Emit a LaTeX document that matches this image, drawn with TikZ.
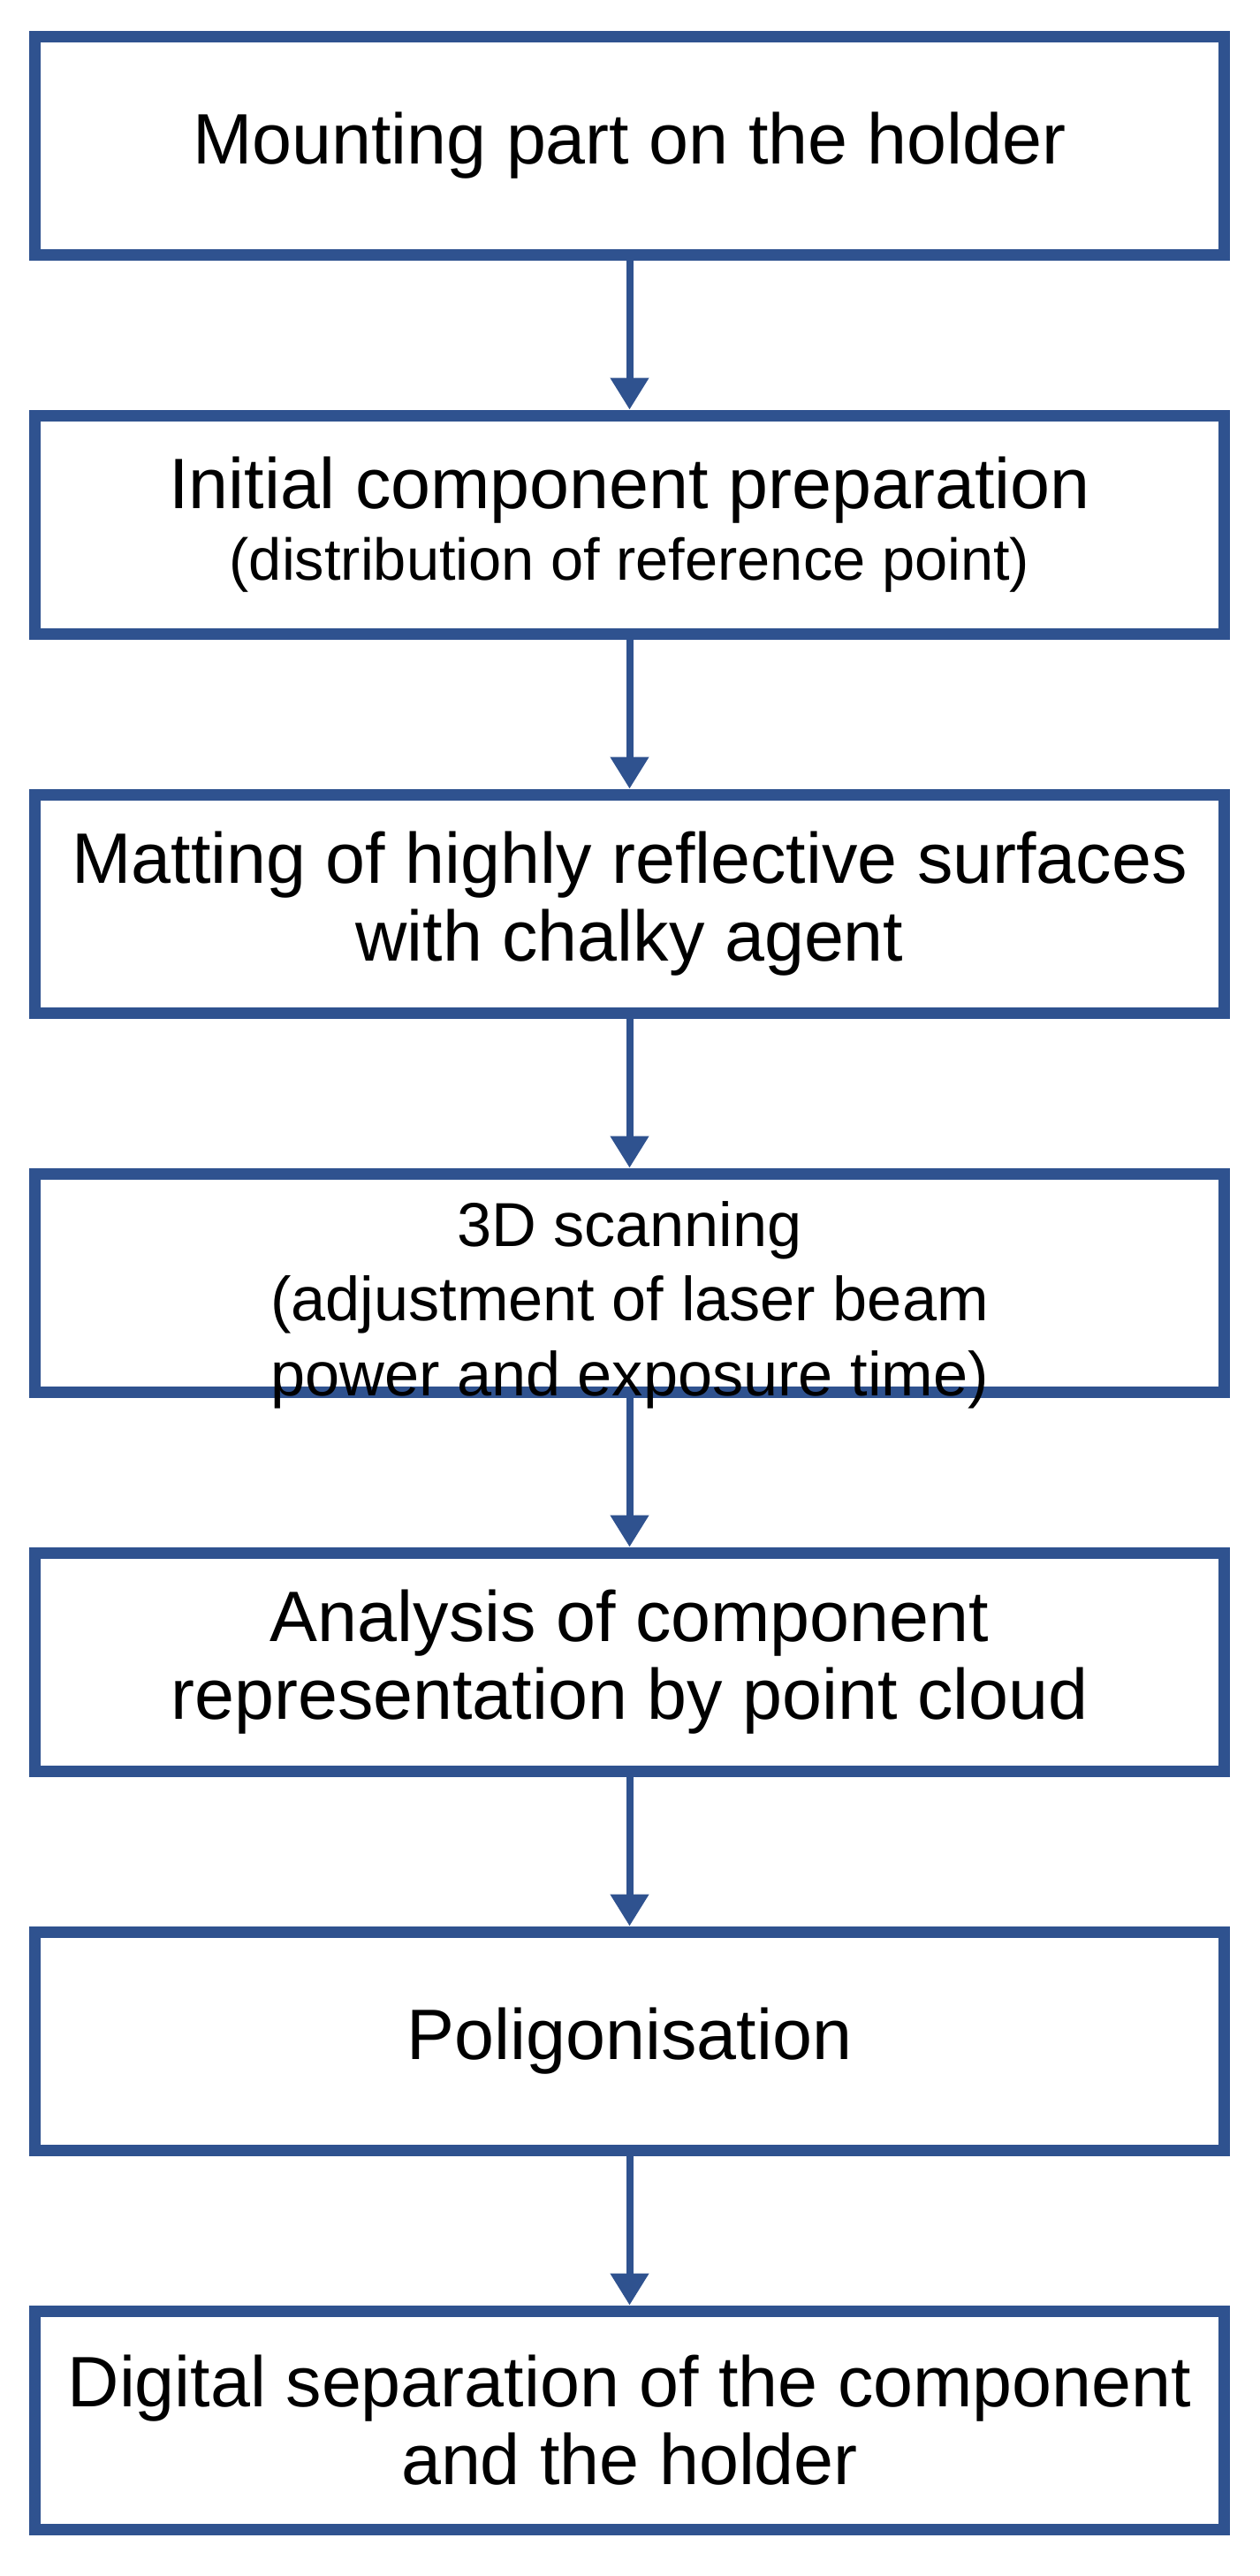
\documentclass[tikz,border=0pt]{standalone}
\usepackage{fontspec}
\setmainfont{Liberation Sans}
\usepackage{xcolor}
\usetikzlibrary{arrows.meta, positioning}
\definecolor{stepblue}{RGB}{47,82,143}

\begin{document}
\begin{tikzpicture}[
        node distance=1.69cm,
        stage/.style={rectangle, draw=stepblue, line width=0.13cm, fill=white, minimum width=13.46cm, minimum height=2.47cm, align=center, font=\fontsize{23}{25}\selectfont},
        arrow/.style={-{Triangle[width=0.42cm, length=0.36cm]}, line width=0.08cm, draw=stepblue},
    ]
        \useasboundingbox (0,0) rectangle (14.25,-29.15);

        % Stages
        \node[stage] (mount) at (7.125,-1.645) {Mounting part on the holder};
        \node[stage, below=of mount] (prep) {Initial component preparation\\[-2pt]{\fontsize{19}{22}\selectfont (distribution of reference point)}};
        \node[stage, below=of prep] (matt) {Matting of highly reflective surfaces\\with chalky agent};
        \node[stage, below=of matt] (scan) {};
        \node[stage, below=of scan] (cloud) {Analysis of component\\representation by point cloud};
        \node[stage, below=of cloud] (poly) {Poligonisation};
        \node[stage, below=of poly] (sep) {Digital separation of the component\\and the holder};
        \node[align=center, font=\fontsize{20}{24}\selectfont, yshift=-0.25cm] (scantext) at (scan) {3D scanning\\(adjustment of laser beam\\power and exposure time)};

        % Arrows
        \draw[arrow] (mount) -- (prep);
        \draw[arrow] (prep) -- (matt);
        \draw[arrow] (matt) -- (scan);
        \draw[arrow] (scan) -- (cloud);
        \draw[arrow] (cloud) -- (poly);
        \draw[arrow] (poly) -- (sep);
    \end{tikzpicture}
\end{document}
